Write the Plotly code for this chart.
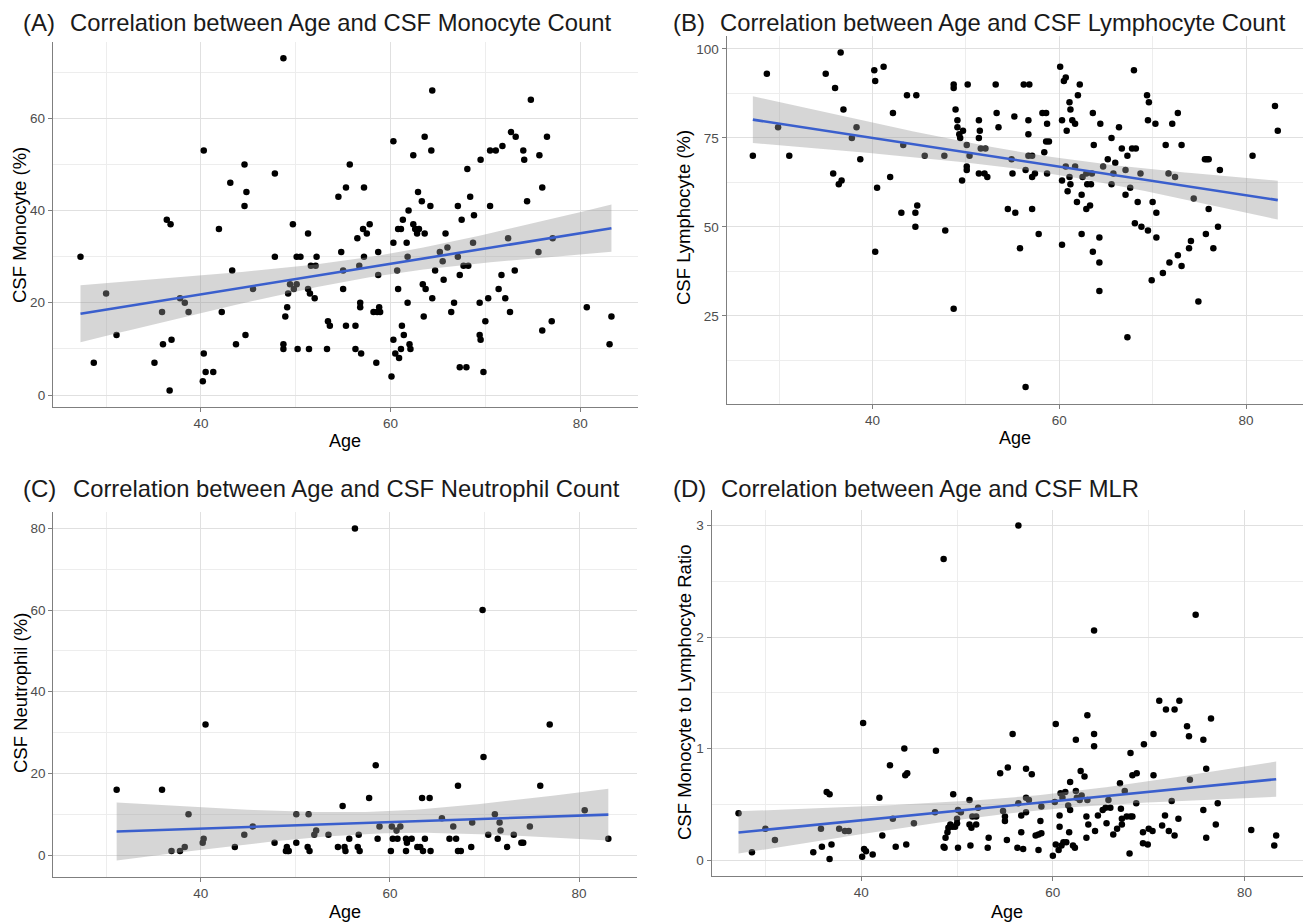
import numpy as np
import plotly.graph_objects as go

# ---------------- data ----------------
age_mono = [27.3, 28.7, 30.0, 31.1, 35.1, 35.9, 36.0, 36.4, 36.8, 36.7, 36.9, 37.8, 38.3, 38.7,
            40.2, 40.3, 40.3, 40.5, 41.3, 41.9, 42.2, 43.1, 43.3, 43.7, 44.6, 44.6, 44.8, 44.7,
            45.5, 47.8, 47.8, 48.7, 48.7, 48.7, 48.9, 49.1, 49.2, 49.4, 49.7, 49.8, 50.1, 50.1,
            50.5, 50.2, 51.3, 51.3, 51.5, 51.6, 52.1, 52.2, 52.0, 51.4, 53.3, 53.4, 53.6, 54.5,
            54.8, 55.0, 55.0, 55.3, 55.3, 55.7,
            56.5, 56.3, 56.3, 56.7, 56.8, 56.8, 56.9, 57.1, 57.2, 57.2, 57.5, 57.8, 58.2, 58.5,
            58.6, 58.7, 58.7, 58.8, 58.9, 60.1, 60.3, 60.3, 60.3, 60.5, 60.7, 60.8, 60.8, 60.9,
            61.1, 61.1, 61.2, 61.3, 61.4, 61.7, 61.8, 61.8, 61.9, 62.0, 62.1, 62.4, 62.4, 62.6,
            62.8, 62.9, 63.0, 63.3, 63.4, 63.6, 63.6, 63.5, 63.7, 64.2, 64.3, 64.4, 64.4, 64.7,
            65.2, 65.5, 65.6, 65.8, 66.0, 66.4, 66.7, 67.1, 67.1, 67.3, 67.3, 67.5, 67.7, 68.0,
            68.1, 68.2, 68.4, 68.7, 68.8, 69.4, 69.4, 69.5, 69.5, 69.8, 70.0, 70.3, 70.5, 70.5,
            71.1, 71.4, 71.7, 71.8, 72.1, 72.4, 72.6, 72.7, 73.2, 73.1, 74.0, 74.1, 74.4, 74.8,
            75.6, 75.7, 76.0, 76.0, 76.5, 77.0, 77.1, 80.7, 83.1, 83.3]
monocyte = [30, 7, 22, 13, 7, 18, 11, 38, 37, 1, 12, 21, 20, 18,
            3, 53, 9, 5, 5, 36, 18, 46, 27, 11, 50, 41, 44, 13,
            23, 48, 30, 73, 11, 10, 17, 19, 22, 24, 37, 23, 24, 30,
            30, 10, 35, 23, 22, 28, 28, 30, 21, 10, 10, 16, 15, 43,
            31, 27, 23, 15, 45, 50,
            34, 15, 10, 28, 20, 19, 9, 36, 45, 30, 35, 37, 18, 7,
            18, 31, 26, 19, 18, 4, 55, 33, 12, 9, 27, 36, 23, 8,
            36, 10, 15, 38, 13, 33, 30, 20, 40, 11, 10, 37, 52, 36,
            35, 44, 36, 42, 24, 35, 56, 17, 23, 41, 53, 66, 21, 27,
            31, 29, 25, 35, 32, 18, 20, 41, 30, 6, 26, 38, 28, 6,
            49, 28, 43, 33, 39, 20, 13, 51, 12, 5, 16, 21, 53, 41,
            53, 23, 26, 54, 21, 34, 18, 57, 56, 27, 53, 51, 42, 64,
            31, 52, 45, 14, 56, 16, 34, 19, 11, 17]

age_lymph = [27.2, 28.7, 29.9, 31.1, 35.0, 35.8, 36.0, 36.4, 36.6, 36.7, 36.9, 37.8, 38.3, 38.7,
             40.2, 40.3, 40.3, 40.5, 41.2, 41.9, 42.2, 43.1, 43.3, 43.7, 44.6, 44.6, 44.7, 44.8,
             45.6, 47.7, 47.8, 48.7, 48.7, 48.7, 48.9, 49.1, 49.1, 49.3, 49.4, 49.6, 49.7, 50.1,
             50.2, 50.1, 50.1, 50.4, 51.4, 51.5, 51.4, 51.4, 51.6, 52.1, 52.0, 52.3,
             53.2, 53.3, 53.5, 54.5, 55.0, 54.9, 55.2, 55.3, 55.8, 56.2, 56.8, 56.4, 56.4, 56.7,
             56.7, 56.7, 57.1, 57.1, 57.1, 57.4, 57.8, 58.2, 58.4, 58.6, 58.7, 58.7, 58.6, 58.9,
             60.1, 60.3, 60.3, 60.3, 60.5, 60.7, 60.8, 60.7, 60.9, 61.1, 61.2, 61.1, 61.2, 61.4,
             61.7, 61.7, 61.9, 62.0, 62.2, 62.4, 62.4, 62.5, 62.9, 62.9, 63.0, 63.3, 63.4, 63.5,
             63.6, 63.6, 63.7, 64.3, 64.3, 64.3, 64.4, 64.7, 65.2, 65.6, 65.6, 65.8, 66.0, 66.4,
             66.7, 67.1, 67.1, 67.3, 67.3, 67.6, 67.8, 68.0, 68.2, 68.1, 68.4, 68.7, 68.8, 69.4,
             69.5, 69.5, 69.6, 69.9, 70.0, 70.3, 70.4, 70.4, 71.1, 71.4, 71.7, 71.8, 72.1, 72.4,
             72.7, 72.7, 73.1, 73.1, 73.9, 74.1, 74.4, 74.9, 75.6, 75.8, 76.0, 75.7, 76.0, 76.5,
             77.0, 77.2, 80.7, 83.1, 83.4]
lymphocyte = [70, 93, 78, 70, 93, 65, 89, 62, 99, 63, 83, 75, 78, 69,
              94, 91, 43, 61, 95, 64, 82, 54, 73, 87, 50, 54, 87, 56,
              70, 70, 49, 90, 89, 27, 83, 80, 78, 76, 75, 63, 77, 73,
              90, 66, 67, 70, 80, 77, 75, 65, 72, 72, 65, 64,
              90, 82, 78, 55, 65, 69, 81, 54, 44, 90, 90, 5, 66, 70,
              76, 80, 70, 55, 64, 65, 48, 82, 71, 82, 65, 79, 74, 74,
              95, 80, 63, 45, 91, 92, 77, 67, 60, 64, 62, 85, 83, 80,
              79, 67, 57, 87, 90, 59, 48, 64, 65, 55, 62, 56, 62, 65,
              82, 43, 73, 47, 40, 32, 79, 67, 69, 62, 75, 65, 68, 78,
              72, 59, 66, 19, 70, 61, 72, 94, 72, 51, 57, 65, 50, 87,
              80, 49, 85, 35, 57, 79, 54, 47, 37, 73, 65, 40, 79, 64,
              82, 42, 73, 39, 44, 46, 58, 29, 69, 69, 69, 48, 55, 44,
              50, 66, 70, 84, 77]

age_neut = [31.1, 35.9, 36.9, 37.8, 38.3, 38.7, 40.2, 40.3, 40.5, 43.6, 44.6, 45.5, 47.8, 49.1,
            49.2, 49.0, 49.3, 50.1, 50.1, 51.4, 51.3, 51.5, 52.0, 52.2, 53.5, 54.5, 55.0, 55.2,
            55.3, 55.7, 56.3, 56.7, 56.6, 56.8, 57.8, 58.5, 58.7, 58.9, 60.1, 60.2, 60.3, 60.7,
            60.8, 61.1, 61.7, 61.7, 61.8, 62.3, 62.9, 63.2, 63.4, 63.5, 63.7, 64.2, 64.3, 65.5,
            66.3, 66.7, 67.0, 67.2, 67.2, 67.5, 68.6, 68.7, 69.8, 69.9, 70.4, 71.1, 71.4, 71.6,
            71.7, 72.4, 73.1, 73.9, 74.1, 74.8, 75.9, 76.9, 80.6, 83.1]
neutrophil = [16, 16, 1, 1, 2, 10, 3, 4, 32, 2, 5, 7, 3, 2,
              1, 1, 1, 10, 3, 10, 2, 1, 5, 6, 5, 2, 12, 2,
              1, 4, 80, 5, 2, 1, 14, 22, 4, 7, 1, 7, 4, 6,
              4, 7, 1, 4, 3, 4, 2, 2, 14, 1, 4, 14, 1, 9,
              4, 7, 4, 17, 1, 1, 2, 8, 60, 24, 5, 10, 4, 8,
              6, 2, 5, 3, 3, 7, 17, 32, 11, 4]

age_mlr = [27.2, 28.6, 30.0, 31.0, 35.0, 35.8, 35.9, 36.4, 36.7, 36.7, 36.9, 37.7, 38.3, 38.7,
           40.1, 40.2, 40.3, 40.5, 41.2, 41.9, 42.2, 43.0, 43.3, 43.6, 44.5, 44.6, 44.8, 44.7,
           45.5, 47.7, 47.8, 48.6, 48.6, 48.7, 48.8, 49.0, 49.1, 49.3, 49.6, 49.5, 49.8, 50.0,
           50.0, 50.1, 50.1, 50.4, 51.3, 51.3, 51.5, 51.4, 51.6, 52.0, 52.0, 52.2, 53.2, 53.3,
           54.5, 54.8, 55.0, 55.0, 55.2, 55.3, 55.8, 56.4, 56.3, 56.4, 56.7, 56.7, 56.9, 57.2,
           57.2, 57.2, 57.5, 57.8, 58.2, 58.5, 58.5, 58.7, 58.8, 58.8, 60.0, 60.2, 60.3, 60.3,
           60.6, 60.7, 60.7, 60.8, 60.9, 61.0, 61.1, 61.3, 61.4, 61.6, 61.7, 61.8, 61.8, 62.1,
           62.3, 62.4, 62.4, 62.5, 62.8, 62.9, 63.0, 63.3, 63.5, 63.5, 63.6, 63.6, 63.7, 64.3,
           64.3, 64.3, 64.4, 64.7, 65.2, 65.5, 65.6, 65.8, 66.0, 66.3, 66.7, 67.0, 67.1, 67.2,
           67.2, 67.5, 67.7, 68.0, 68.1, 68.1, 68.3, 68.3, 68.7, 68.75, 69.4, 69.4, 69.5, 69.9,
           70.0, 70.4, 70.5, 70.5, 71.1, 71.4, 71.7, 71.8, 72.1, 72.4, 72.7, 72.7, 73.1, 73.2,
           74.0, 74.2, 74.3, 74.9, 75.7, 75.7, 76.0, 76.0, 76.5, 77.0, 77.2, 80.7, 83.1, 83.3]
mlr = [0.42, 0.07, 0.28, 0.18, 0.07, 0.28, 0.12, 0.61, 0.59, 0.01, 0.14, 0.28, 0.26, 0.26,
       0.03, 1.23, 0.10, 0.08, 0.05, 0.56, 0.22, 0.85, 0.37, 0.12, 1.00, 0.76, 0.78, 0.14,
       0.33, 0.43, 0.98, 2.70, 0.12, 0.11, 0.20, 0.25, 0.29, 0.32, 0.59, 0.30, 0.30, 0.37,
       0.33, 0.45, 0.11, 0.43, 0.54, 0.32, 0.29, 0.13, 0.39, 0.39, 0.32, 0.47, 0.11, 0.20,
       0.78, 0.44, 0.39, 0.35, 0.18, 0.83, 1.13, 3.00, 0.11, 0.51, 0.40, 0.25, 0.10, 0.82,
       0.56, 0.43, 0.54, 0.77, 0.22, 0.09, 0.23, 0.35, 0.48, 0.24, 0.04, 0.52, 1.22, 0.14,
       0.09, 0.40, 0.30, 0.60, 0.13, 0.56, 0.16, 0.61, 0.16, 0.49, 0.25, 0.45, 0.70, 0.13,
       0.11, 0.62, 1.08, 0.56, 0.54, 0.80, 0.58, 0.75, 0.39, 0.20, 1.30, 0.54, 0.32, 1.02,
       1.13, 2.06, 0.26, 0.40, 0.45, 0.47, 0.33, 0.54, 0.47, 0.23, 0.28, 0.69, 0.46, 0.37,
       0.32, 0.62, 0.39, 0.06, 0.39, 0.96, 0.39, 0.76, 0.51, 0.78, 0.25, 0.15, 1.04, 0.14,
       0.28, 0.26, 1.13, 0.76, 1.43, 0.31, 0.40, 1.35, 0.26, 0.53, 1.35, 0.22, 0.37, 1.43,
       1.20, 1.11, 0.72, 2.20, 1.08, 0.45, 0.20, 0.82, 1.27, 0.32, 0.51, 0.27, 0.13, 0.22]

panel_tags = ["(A)", "(B)", "(C)", "(D)"]
panel_titles = ["Correlation between Age and CSF Monocyte Count",
                "Correlation between Age and CSF Lymphocyte Count",
                "Correlation between Age and CSF Neutrophil Count",
                "Correlation between Age and CSF MLR"]
y_titles = ["CSF Monocyte (%)", "CSF Lymphocyte (%)", "CSF Neutrophil (%)",
            "CSF Monocyte to Lymphocyte Ratio"]
x_title = "Age"

# ---------------- helpers ----------------
def lm_band(x, y, n=80):
    x = np.asarray(x, float)
    y = np.asarray(y, float)
    b, a = np.polyfit(x, y, 1)
    xs = np.linspace(x.min(), x.max(), n)
    fit = a + b * xs
    resid = y - (a + b * x)
    df = len(x) - 2
    s = np.sqrt(np.sum(resid ** 2) / df)
    xbar = x.mean()
    sxx = np.sum((x - xbar) ** 2)
    se = s * np.sqrt(1.0 / len(x) + (xs - xbar) ** 2 / sxx)
    z = 1.959964
    t = z + (z ** 3 + z) / (4 * df) + (5 * z ** 5 + 16 * z ** 3 + 3 * z) / (96 * df ** 2)
    return xs, fit, fit - t * se, fit + t * se

W, H = 1307, 924
# plot areas in pixels: (left, right, top, bottom)
areas = [(53, 638, 41.7, 407), (726.7, 1303, 35.8, 403.7),
         (53.3, 636.7, 511.7, 876.7), (711.7, 1303, 510, 875.7)]
xranges = [[24.4, 86.1]] * 4
yranges = [[-2.6, 76.6], [0.3, 103.7], [-5.3, 84.1], [-0.14, 3.14]]
ymajor = [20, 25, 20, 1]
datasets = [(age_mono, monocyte), (age_lymph, lymphocyte), (age_neut, neutrophil), (age_mlr, mlr)]

fig = go.Figure()
font_fam = "Liberation Sans, Arial, sans-serif"

for i, (xv, yv) in enumerate(datasets):
    k = "" if i == 0 else str(i + 1)
    xa, ya = "x" + k, "y" + k
    fig.add_trace(go.Scatter(x=xv, y=yv, mode="markers", xaxis=xa, yaxis=ya,
                             marker=dict(size=6.5, color="black"), showlegend=False,
                             hoverinfo="skip"))
    xs, fit, lo, hi = lm_band(xv, yv)
    fig.add_trace(go.Scatter(x=list(xs) + list(xs[::-1]), y=list(hi) + list(lo[::-1]),
                             fill="toself", fillcolor="rgba(153,153,153,0.4)",
                             line=dict(width=0), mode="lines", xaxis=xa, yaxis=ya,
                             showlegend=False, hoverinfo="skip"))
    fig.add_trace(go.Scatter(x=xs, y=fit, mode="lines", xaxis=xa, yaxis=ya,
                             line=dict(color="#3A5FCD", width=2.6), showlegend=False,
                             hoverinfo="skip"))

    l, r, t, b = areas[i]
    common = dict(showline=True, linecolor="#7F7F7F", linewidth=1.3, ticks="outside",
                  ticklen=4, tickcolor="#7F7F7F", tickwidth=1.1,
                  tickfont=dict(size=13.5, color="#4D4D4D", family=font_fam),
                  showgrid=True, gridcolor="#E0E0E0", gridwidth=1.2, zeroline=False)
    fig.layout["xaxis" + k] = dict(domain=[l / W, r / W], anchor=ya, range=xranges[i],
                                   tickmode="linear", tick0=0, dtick=20,
                                   minor=dict(dtick=10, showgrid=True, gridcolor="#EDEDED",
                                              gridwidth=0.9, ticks=""),
                                   **common)
    fig.layout["yaxis" + k] = dict(domain=[1 - b / H, 1 - t / H], anchor=xa, range=yranges[i],
                                   tickmode="linear", tick0=0, dtick=ymajor[i],
                                   minor=dict(dtick=ymajor[i] / 2, showgrid=True,
                                              gridcolor="#EDEDED", gridwidth=0.9, ticks=""),
                                   **common)

# annotations (tags, titles, axis titles)
tag_pos = [(21, 23), (671, 23), (21, 488), (671, 488)]
title_pos = [(68, 23), (718, 23), (71, 488), (719, 488)]
ytitle_pos = [(20, 225), (684, 218), (20, 693), (684, 693)]
xtitle_pos = [(345, 441), (1015, 438), (345, 912), (1007, 912)]
ann = []
for i in range(4):
    ann.append(dict(text=panel_tags[i], x=tag_pos[i][0] / W, y=1 - tag_pos[i][1] / H,
                    xref="paper", yref="paper", xanchor="left", yanchor="middle",
                    showarrow=False, font=dict(size=24, color="#1A1A1A", family=font_fam)))
    ann.append(dict(text=panel_titles[i], x=title_pos[i][0] / W, y=1 - title_pos[i][1] / H,
                    xref="paper", yref="paper", xanchor="left", yanchor="middle",
                    showarrow=False, font=dict(size=23.8, color="#1A1A1A", family=font_fam)))
    ann.append(dict(text=y_titles[i], x=ytitle_pos[i][0] / W, y=1 - ytitle_pos[i][1] / H,
                    xref="paper", yref="paper", xanchor="center", yanchor="middle",
                    textangle=-90, showarrow=False,
                    font=dict(size=18.5, color="black", family=font_fam)))
    ann.append(dict(text=x_title, x=xtitle_pos[i][0] / W, y=1 - xtitle_pos[i][1] / H,
                    xref="paper", yref="paper", xanchor="center", yanchor="middle",
                    showarrow=False, font=dict(size=18, color="black", family=font_fam)))

fig.update_layout(width=W, height=H, margin=dict(l=0, r=0, t=0, b=0),
                  paper_bgcolor="white", plot_bgcolor="white", annotations=ann,
                  showlegend=False)

fig.write_html("out.html")
